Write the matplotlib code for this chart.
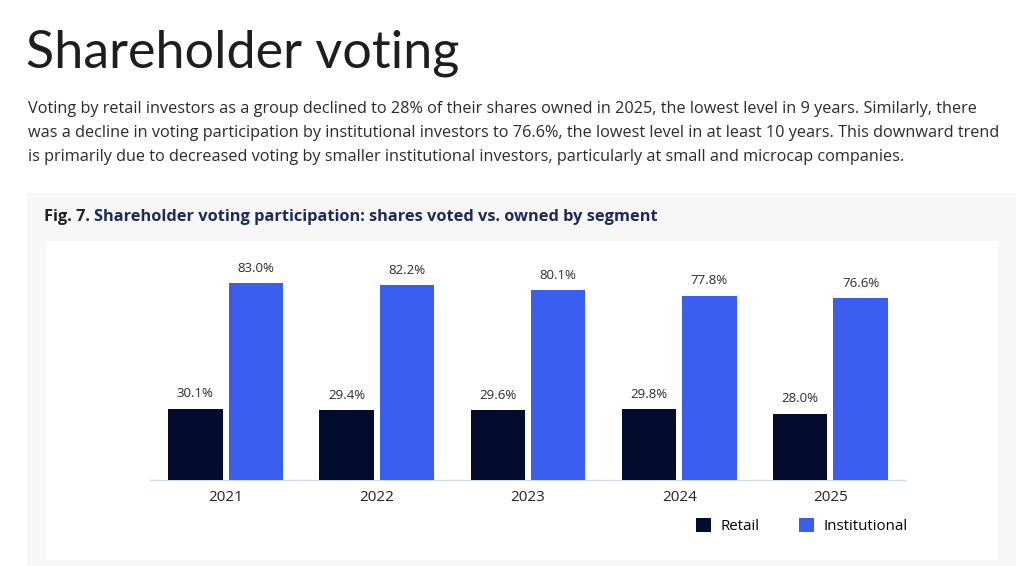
import matplotlib
matplotlib.use("Agg")
import matplotlib.pyplot as plt
from matplotlib.patches import Rectangle, Patch
import numpy as np

years = ["2021", "2022", "2023", "2024", "2025"]
retail = [30.1, 29.4, 29.6, 29.8, 28.0]
institutional = [83.0, 82.2, 80.1, 77.8, 76.6]
series_names = ["Retail", "Institutional"]

title = "Shareholder voting"
paragraph = ("Voting by retail investors as a group declined to 28% of their shares owned in 2025, the lowest level in 9 years. Similarly, there\n"
             "was a decline in voting participation by institutional investors to 76.6%, the lowest level in at least 10 years. This downward trend\n"
             "is primarily due to decreased voting by smaller institutional investors, particularly at small and microcap companies.")
fig_label = "Fig. 7."
fig_caption = "Shareholder voting participation: shares voted vs. owned by segment"

C_RETAIL = "#030c2f"
C_INST = "#3a5ff0"
FONT = "Open Sans"

W, H = 1024, 566
fig = plt.figure(figsize=(W / 100, H / 100), dpi=100)
fig.patch.set_facecolor("white")

def fx(px):
    return px / W

def fy(py):
    return 1 - py / H

# grey panel
fig.patches.append(Rectangle((fx(27), fy(566)), fx(1016) - fx(27), fy(193) - fy(566),
                             transform=fig.transFigure, facecolor="#f7f7f7", edgecolor="none", zorder=-10))
# white inner box
fig.patches.append(Rectangle((fx(46), fy(560)), fx(998) - fx(46), fy(241) - fy(560),
                             transform=fig.transFigure, facecolor="white", edgecolor="none", zorder=-9))

fig.text(fx(26), fy(53), title, fontsize=37.5, fontfamily="Lato", fontweight="normal",
         color="#1e1e1e", va="center", ha="left")
fig.text(fx(28), fy(101), paragraph, fontsize=11.7, fontfamily=FONT, color="#2b2b2b",
         va="top", ha="left", linespacing=1.66)
t1 = fig.text(fx(44), fy(217), fig_label + " ", fontsize=11.75, fontfamily=FONT, fontweight="bold",
              color="#222222", va="center", ha="left")
fig.canvas.draw()
bb = t1.get_window_extent()
fig.text(bb.x1 / W, fy(217), fig_caption, fontsize=11.75, fontfamily=FONT, fontweight="bold",
         color="#1d2a5c", va="center", ha="left")

ax = fig.add_axes([fx(150), fy(480), fx(906) - fx(150), fy(243) - fy(480)])
ax.set_facecolor("none")
x = np.arange(len(years))
w = 0.36
b1 = ax.bar(x - 0.2, retail, w, color=C_RETAIL, label=series_names[0], zorder=3)
b2 = ax.bar(x + 0.2, institutional, w, color=C_INST, label=series_names[1], zorder=3)
for bars, vals in ((b1, retail), (b2, institutional)):
    for r, v in zip(bars, vals):
        ax.annotate(f"{v:.1f}%", (r.get_x() + r.get_width() / 2, v), xytext=(0, 6),
                    textcoords="offset points", ha="center", va="bottom",
                    fontsize=9.5, fontfamily=FONT, color="#2b2b2b")
ax.set_xlim(-0.5, len(years) - 0.5)
ax.set_ylim(0, 100)
ax.set_xticks(x)
ax.set_xticklabels(years, fontsize=11, fontfamily=FONT, color="#222222")
ax.tick_params(axis="x", length=0, pad=7)
ax.set_yticks([])
for s in ["top", "left", "right"]:
    ax.spines[s].set_visible(False)
ax.spines["bottom"].set_color("#d5dce4")
ax.spines["bottom"].set_linewidth(1)

handles = [Patch(facecolor=C_RETAIL), Patch(facecolor=C_INST)]
fig.legend(handles, series_names, loc="center left", bbox_to_anchor=(fx(696), fy(526)),
           ncol=2, frameon=False, handlelength=1.0, handleheight=1.0, handletextpad=0.65,
           columnspacing=2.6, borderpad=0, borderaxespad=0,
           prop={"family": FONT, "size": 10.8})

fig.savefig("out.png", dpi=100)
